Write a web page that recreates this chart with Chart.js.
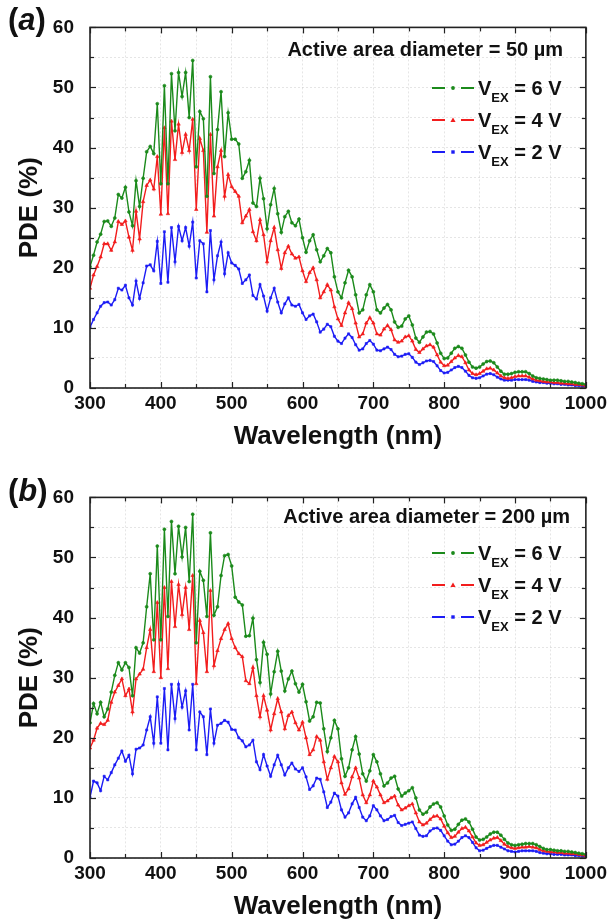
<!DOCTYPE html>
<html><head><meta charset="utf-8">
<script src="https://cdn.jsdelivr.net/npm/chart.js@4.4.1/dist/chart.umd.min.js"></script>
<style>
html,body{margin:0;padding:0;background:#fff;}
#wrap{position:relative;width:611px;height:922px;overflow:hidden;font-family:"Liberation Sans",Arial,sans-serif;font-weight:bold;color:#111;}
canvas{position:absolute;left:0;}
.lbl{position:absolute;font-size:31px;line-height:34px;white-space:nowrap;}
.ann{position:absolute;font-size:20px;line-height:24px;white-space:nowrap;}
.leg{position:absolute;height:24px;display:flex;align-items:center;white-space:nowrap;font-size:20px;line-height:24px;}
.leg svg{display:block;margin-right:3px;}
sub{font-size:13px;vertical-align:-7px;line-height:0;}
</style></head><body>
<div id="wrap">
<canvas id="ca" width="611" height="452" style="top:0px"></canvas>
<canvas id="cb" width="611" height="452" style="top:470px"></canvas>
<div class="lbl" style="left:8px;top:3px">(<i>a</i>)</div>
<div class="lbl" style="left:8px;top:474px">(<i>b</i>)</div>
<div class="ann" id="annA" style="right:48px;top:37px"></div>
<div class="ann" id="annB" style="right:41px;top:504px"></div>
</div>
<script>
// ---- data ----
const wavelength = [
 300,305,310,315,320,325,330,335,340,345,
 350,355,360,365,370,375,380,385,390,395,
 400,405,410,415,420,425,430,435,440,445,
 450,455,460,465,470,475,480,485,490,495,
 500,505,510,515,520,525,530,535,540,545,
 550,555,560,565,570,575,580,585,590,595,
 600,605,610,615,620,625,630,635,640,645,
 650,655,660,665,670,675,680,685,690,695,
 700,705,710,715,720,725,730,735,740,745,
 750,755,760,765,770,775,780,785,790,795,
 800,805,810,815,820,825,830,835,840,845,
 850,855,860,865,870,875,880,885,890,895,
 900,905,910,915,920,925,930,935,940,945,
 950,955,960,965,970,975,980,985,990,995,
 1000];

// Panel (a): active area diameter = 50 um
const pdeA_6V = [
 20.2,22.1,24.3,25.6,27.7,27.8,26.9,28.3,32.2,31.6,
 33.4,29.3,27.0,34.5,30.2,34.9,39.3,40.2,39.0,47.3,
 34.0,50.3,34.0,52.3,42.8,52.5,48.5,52.5,45.0,54.5,
 36.8,46.0,44.8,31.9,51.8,35.7,43.0,49.3,38.5,45.8,
 41.4,41.4,40.6,34.9,36.0,37.9,30.8,30.2,34.9,31.5,
 26.5,30.5,33.2,29.0,25.9,28.5,29.4,27.5,27.0,28.1,
 25.0,22.6,24.5,25.5,23.0,21.0,22.0,23.2,22.5,18.5,
 16.0,15.0,17.5,19.6,18.5,15.5,12.5,13.0,15.5,17.2,
 16.0,13.0,12.5,13.3,13.9,13.0,11.0,10.1,10.3,11.5,
 12.0,10.5,8.3,7.6,8.5,9.3,9.4,9.0,7.5,5.8,
 4.9,5.0,5.8,6.6,6.9,6.6,5.5,4.3,3.5,3.3,
 3.5,4.0,4.4,4.5,4.2,3.5,2.8,2.3,2.3,2.4,
 2.6,2.7,2.7,2.7,2.4,2.0,1.7,1.6,1.5,1.4,
 1.3,1.3,1.3,1.2,1.1,1.1,1.0,0.9,0.8,0.7,
 0.6];
const pdeA_4V = [
 16.6,18.8,20.2,21.8,24.0,24.0,22.9,24.3,27.7,27.2,
 27.8,25.1,22.9,29.4,24.8,31.0,33.7,34.6,33.1,38.5,
 28.9,43.3,29.0,44.4,38.0,43.9,39.2,42.2,39.5,44.7,
 29.7,41.5,39.5,25.9,42.2,28.6,36.8,39.5,31.9,35.5,
 33.5,32.7,31.9,27.5,28.6,29.7,26.0,24.5,28.0,25.5,
 21.0,24.5,26.7,23.0,19.9,22.5,23.6,22.3,21.6,21.8,
 19.5,17.7,19.2,20.0,18.0,15.0,16.0,17.2,16.3,13.5,
 11.5,10.4,12.5,14.2,13.2,10.8,8.5,9.0,10.8,11.7,
 10.8,9.0,8.8,9.8,10.4,9.7,8.0,7.6,7.8,8.5,
 8.7,7.8,6.4,5.9,6.5,7.0,7.2,6.8,5.5,4.3,
 3.7,3.8,4.4,5.0,5.4,5.2,4.2,3.0,2.4,2.2,
 2.4,2.8,3.2,3.3,3.0,2.5,2.0,1.7,1.6,1.7,
 1.9,2.0,2.0,2.0,1.8,1.5,1.3,1.2,1.1,1.0,
 1.0,0.9,0.9,0.8,0.8,0.7,0.7,0.6,0.6,0.5,
 0.4];
const pdeA_2V = [
 10.1,11.4,12.5,13.6,14.2,14.3,13.8,14.7,16.6,16.3,
 17.1,15.0,13.8,17.8,14.9,17.5,20.3,20.5,19.5,24.4,
 17.4,26.0,17.6,26.7,21.0,26.9,24.5,26.7,23.6,27.6,
 18.3,24.5,24.0,16.0,26.2,18.0,22.0,24.3,19.0,22.5,
 20.8,20.4,19.8,17.4,18.0,18.8,15.4,14.8,17.2,15.3,
 12.8,15.0,16.6,14.3,12.5,14.0,15.0,13.8,13.6,13.9,
 12.5,11.4,12.0,12.3,11.0,9.3,9.8,10.6,10.2,8.6,
 7.8,7.4,8.3,9.0,8.4,7.2,6.3,6.5,7.4,7.9,
 7.3,6.3,6.2,6.5,6.8,6.4,5.6,5.2,5.3,5.6,
 5.7,5.1,4.3,3.9,4.2,4.5,4.6,4.4,3.7,2.9,
 2.5,2.6,3.0,3.4,3.6,3.4,2.8,2.1,1.7,1.6,
 1.7,2.0,2.3,2.4,2.2,1.8,1.5,1.3,1.3,1.3,
 1.4,1.4,1.4,1.4,1.3,1.1,1.0,0.9,0.9,0.8,
 0.8,0.7,0.7,0.6,0.6,0.5,0.5,0.4,0.4,0.3,
 0.3];

// Panel (b): active area diameter = 200 um
const pdeB_6V = [
 22.5,25.7,24.0,25.9,23.5,24.8,27.6,30.4,32.5,31.3,
 32.5,31.7,27.0,35.0,34.1,35.8,41.8,47.3,36.3,51.9,
 36.3,54.7,40.2,56.0,47.3,55.2,50.1,55.0,46.0,57.2,
 35.8,47.7,46.2,40.2,54.1,40.4,41.8,47.0,50.3,50.5,
 48.6,43.4,42.6,42.1,36.9,37.0,39.9,33.0,29.2,35.9,
 33.9,27.3,31.0,34.4,31.1,27.8,29.8,31.1,29.0,27.6,
 28.9,26.0,22.8,23.5,25.9,25.8,21.5,17.7,20.0,22.9,
 21.5,16.5,13.6,15.0,18.0,20.2,17.3,14.0,12.8,14.5,
 17.2,16.0,14.0,12.0,12.5,13.3,13.6,11.5,10.3,10.8,
 11.2,11.7,10.0,8.0,7.3,7.6,8.5,9.0,9.2,8.5,
 7.0,5.5,4.6,4.8,5.6,6.3,6.5,6.0,4.8,3.5,
 3.0,3.1,3.5,4.0,4.3,4.3,3.8,3.1,2.5,2.2,
 2.1,2.2,2.3,2.4,2.4,2.4,2.2,1.9,1.6,1.4,
 1.4,1.3,1.2,1.2,1.1,1.1,1.0,0.9,0.8,0.7,
 0.6];
const pdeB_4V = [
 18.3,19.6,21.6,22.4,22.2,22.9,25.9,27.6,28.7,29.8,
 27.0,28.1,24.3,29.8,30.6,31.4,35.0,38.0,31.0,42.5,
 30.0,45.0,31.5,46.0,38.5,45.5,40.5,45.0,38.0,47.0,
 29.0,39.5,37.5,31.0,44.5,32.0,34.5,36.5,38.0,39.0,
 36.5,35.0,34.0,33.5,29.5,29.0,31.7,27.0,23.5,27.0,
 24.6,21.3,24.0,26.5,24.3,21.5,23.7,24.3,22.5,21.3,
 22.6,20.0,17.2,18.0,20.2,19.6,16.0,13.1,15.0,16.9,
 16.0,12.5,10.6,11.5,13.5,15.0,13.3,10.5,9.2,10.5,
 12.8,11.8,10.5,9.2,9.5,10.0,10.3,8.8,8.0,8.3,
 8.7,9.0,7.5,6.0,5.5,5.8,6.4,6.9,7.0,6.5,
 5.3,4.2,3.4,3.6,4.3,4.9,5.1,4.5,3.5,2.5,
 2.1,2.2,2.6,3.0,3.3,3.4,2.9,2.3,1.9,1.7,
 1.6,1.7,1.8,1.8,1.9,1.8,1.7,1.4,1.2,1.1,
 1.0,1.0,0.9,0.9,0.8,0.8,0.7,0.7,0.6,0.5,
 0.4];
const pdeB_2V = [
 10.1,12.8,12.5,11.2,13.6,13.0,14.2,15.5,16.6,17.8,
 16.1,17.1,14.0,18.1,18.3,18.8,21.3,23.5,19.1,26.8,
 19.1,28.2,18.0,28.9,23.2,28.9,25.1,27.8,21.3,28.9,
 18.0,24.3,23.5,17.2,24.8,19.1,22.1,22.4,22.9,22.6,
 21.4,21.3,20.0,19.5,18.5,18.8,19.6,16.0,14.7,17.2,
 15.3,13.6,15.5,17.1,15.5,13.8,15.0,15.8,14.8,14.4,
 15.0,13.5,11.4,12.0,13.3,13.1,11.0,8.4,9.3,10.8,
 10.3,8.0,6.8,7.5,9.0,10.1,8.4,6.8,6.2,7.0,
 8.7,8.0,7.0,6.2,6.4,6.9,7.1,5.9,5.4,5.6,
 5.8,6.0,4.9,3.8,3.6,3.7,4.5,4.9,5.0,4.6,
 3.7,2.8,2.2,2.3,2.8,3.4,3.7,3.4,2.6,1.7,
 1.2,1.3,1.6,1.9,2.1,2.1,1.8,1.5,1.2,1.1,
 1.0,1.1,1.2,1.2,1.2,1.2,1.1,0.9,0.8,0.7,
 0.7,0.6,0.6,0.6,0.5,0.5,0.5,0.4,0.4,0.3,
 0.3];

const seriesVoltages = ['6 V', '4 V', '2 V'];
const seriesColors = ['#1b8a1b', '#f21d1d', '#1c1cf5'];
const seriesPoints = ['circle', 'triangle', 'rect'];
const xTicks = [300, 400, 500, 600, 700, 800, 900, 1000];
const yTicks = [0, 10, 20, 30, 40, 50, 60];
const annotations = ['Active area diameter = 50 \u00b5m', 'Active area diameter = 200 \u00b5m'];

// ---- rendering ----
Chart.defaults.font.family = '"Liberation Sans", Arial, sans-serif';
Chart.defaults.color = '#111';

const framePlugin = {
  id: 'frame',
  afterDraw(chart) {
    const {ctx, chartArea: a, scales: {x, y}} = chart;
    ctx.save();
    ctx.strokeStyle = '#222';
    ctx.lineWidth = 1.2;
    const ln = (x1, y1, x2, y2) => { ctx.beginPath(); ctx.moveTo(x1, y1); ctx.lineTo(x2, y2); ctx.stroke(); };
    x.ticks.forEach(t => {
      const px = Math.round(x.getPixelForValue(t.value)) + 0.5;
      const len = xTicks.includes(t.value) ? 6 : 4;
      ln(px, a.bottom, px, a.bottom - len);
      ln(px, a.top, px, a.top + len);
    });
    y.ticks.forEach(t => {
      const py = Math.round(y.getPixelForValue(t.value)) + 0.5;
      const len = yTicks.includes(t.value) ? 6 : 4;
      ln(a.left, py, a.left + len, py);
      ln(a.right, py, a.right - len, py);
    });
    ctx.lineWidth = 1.6;
    ctx.strokeRect(a.left, a.top, a.right - a.left, a.bottom - a.top);
    ctx.restore();
  }
};

function makeChart(id, series) {
  const datasets = series.map((arr, k) => ({
    label: 'V_EX = ' + seriesVoltages[k],
    data: wavelength.map((w, i) => ({x: w, y: arr[i]})),
    borderColor: seriesColors[k],
    backgroundColor: seriesColors[k],
    borderWidth: 1.4,
    pointStyle: seriesPoints[k],
    pointRadius: seriesPoints[k] === 'triangle' ? 2 : 1.5,
    pointBorderWidth: 0.6,
    tension: 0
  }));
  return new Chart(document.getElementById(id), {
    type: 'line',
    data: {datasets},
    options: {
      responsive: false, animation: false, devicePixelRatio: 1,
      layout: {padding: {left: 0, right: 24, top: 22, bottom: 0}},
      plugins: {legend: {display: false}, tooltip: {enabled: false}},
      scales: {
        x: {
          type: 'linear', min: 300, max: 1000,
          afterFit(s) { s.height = 64; },
          ticks: {stepSize: 50, autoSkip: false, maxRotation: 0, padding: 4, color: '#111',
                  font: {size: 19, weight: 'bold'},
                  callback: v => xTicks.includes(v) ? String(v) : ''},
          grid: {color: 'rgba(0,0,0,0.10)', drawTicks: false, lineWidth: 1},
          border: {display: false, dash: [2, 2]},
          title: {display: true, text: 'Wavelength (nm)', color: '#111',
                  font: {size: 26, weight: 'bold'}, padding: {top: 0, bottom: 0}}
        },
        y: {
          min: 0, max: 60,
          afterFit(s) { s.width = 90; },
          ticks: {stepSize: 5, autoSkip: false, padding: 16, color: '#111',
                  font: {size: 19, weight: 'bold'},
                  callback: v => yTicks.includes(v) ? String(v) : ''},
          grid: {color: 'rgba(0,0,0,0.10)', drawTicks: false, lineWidth: 1},
          border: {display: false, dash: [2, 2]},
          title: {display: true, text: 'PDE (%)', color: '#111',
                  font: {size: 26, weight: 'bold'}, padding: {top: 14, bottom: 0}}
        }
      }
    },
    plugins: [framePlugin]
  });
}

makeChart('ca', [pdeA_6V, pdeA_4V, pdeA_2V]);
makeChart('cb', [pdeB_6V, pdeB_4V, pdeB_2V]);

document.getElementById('annA').textContent = annotations[0];
document.getElementById('annB').textContent = annotations[1];

// legends (HTML, with subscript)
const wrap = document.getElementById('wrap');
function marker(k) {
  const c = seriesColors[k];
  if (seriesPoints[k] === 'triangle') return `<polygon points="22,2.5 24.6,7 19.4,7" fill="${c}"/>`;
  if (seriesPoints[k] === 'rect') return `<rect x="20.3" y="3.3" width="3.4" height="3.4" fill="${c}"/>`;
  return `<circle cx="22" cy="5" r="1.9" fill="${c}"/>`;
}
function addLegend(rowsY) {
  rowsY.forEach((cy, k) => {
    const d = document.createElement('div');
    d.className = 'leg';
    d.style.left = '431px';
    d.style.top = (cy - 12) + 'px';
    const c = seriesColors[k];
    d.innerHTML = `<svg width="44" height="10" viewBox="0 0 44 10">
      <line x1="1" y1="5" x2="14" y2="5" stroke="${c}" stroke-width="2"/>
      ${marker(k)}
      <line x1="30" y1="5" x2="43" y2="5" stroke="${c}" stroke-width="2"/></svg>
      <span>V<sub>EX</sub> = ${seriesVoltages[k]}</span>`;
    wrap.appendChild(d);
  });
}
addLegend([88, 120, 152]);
addLegend([553, 585, 617]);
</script>
</body></html>
